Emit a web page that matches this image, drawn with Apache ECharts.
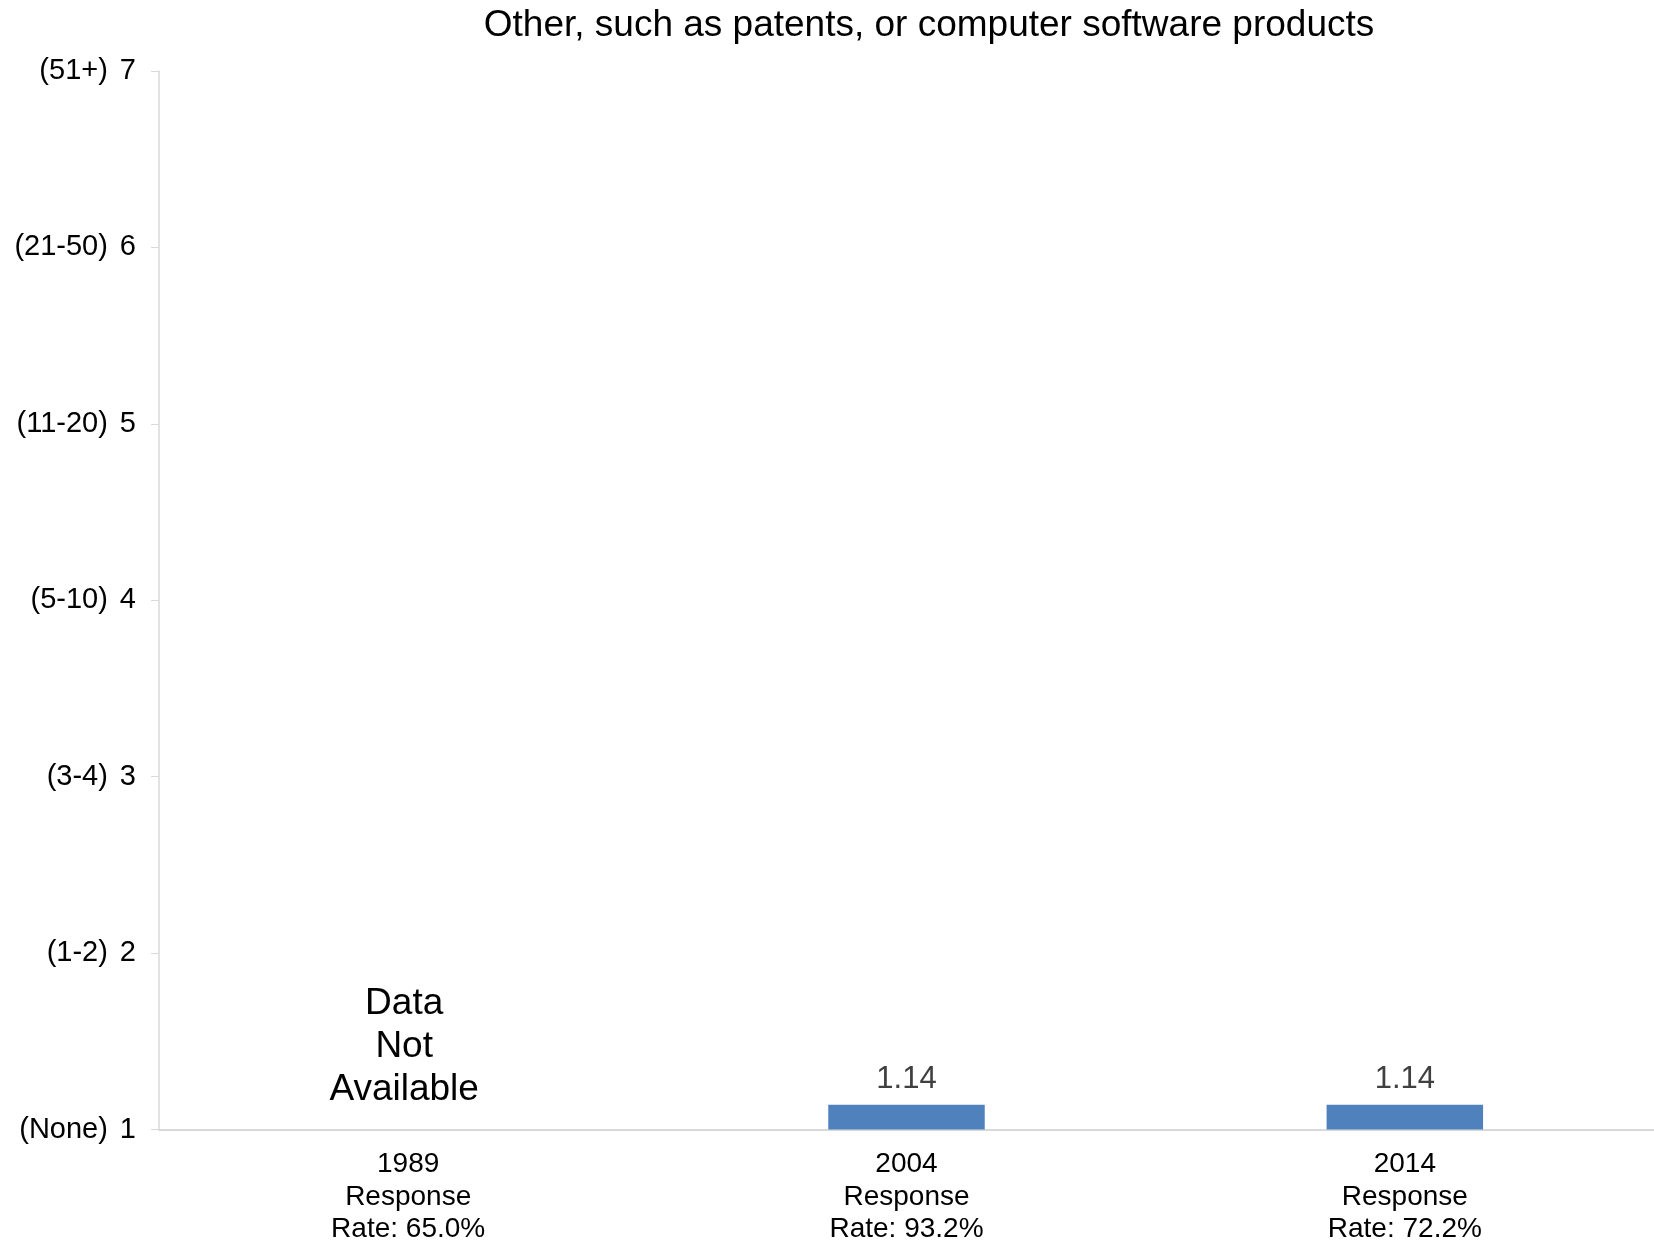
<!DOCTYPE html>
<html>
<head>
<meta charset="utf-8">
<script src="https://cdn.jsdelivr.net/npm/echarts@6/dist/echarts.min.js"></script>
<style>
  html, body { margin: 0; padding: 0; background: #fff; }
  #chart { width: 1654px; height: 1246px; }
</style>
</head>
<body>
<div id="chart"></div>
<script>
const categories = ['1989\nResponse\nRate: 65.0%', '2004\nResponse\nRate: 93.2%', '2014\nResponse\nRate: 72.2%']
const values = [null, 1.14, 1.14]
const yRanges = ['(None)', '(1-2)', '(3-4)', '(5-10)', '(11-20)', '(21-50)', '(51+)']
const titleText = 'Other, such as patents, or computer software products'
const missingText = 'Data\nNot\nAvailable'

const font = 'Liberation Sans, Arial, sans-serif'
const chart = echarts.init(document.getElementById('chart'))

chart.setOption({
  animation: false,
  title: {
    text: titleText,
    left: 924,
    top: 2,
    textAlign: 'center',
    textStyle: { fontFamily: font, fontSize: 37, fontWeight: 'normal', color: '#000' }
  },
  grid: { left: 159, right: 0, top: 71, bottom: 114, containLabel: false },
  xAxis: {
    type: 'category',
    data: categories,
    axisLine: { lineStyle: { color: '#d9d9d9', width: 2 } },
    axisTick: { show: false },
    axisLabel: { fontFamily: font, fontSize: 28, color: '#000', lineHeight: 32.5, margin: 19 }
  },
  yAxis: {
    type: 'value',
    min: 1,
    max: 7,
    interval: 1,
    splitLine: { show: false },
    axisLine: { show: true, lineStyle: { color: '#d9d9d9', width: 1.5 } },
    axisTick: { show: true, length: 8, lineStyle: { color: '#d9d9d9' } },
    axisLabel: {
      margin: 23,
      color: '#000',
      formatter: (v) => '{r|' + yRanges[v - 1] + '}{n|' + v + '}',
      rich: {
        r: { fontFamily: font, fontSize: 29, color: '#000' },
        n: { fontFamily: font, fontSize: 29, color: '#000', padding: [0, 0, 0, 12] }
      }
    }
  },
  series: [
    {
      type: 'bar',
      data: values,
      barWidth: '31.4%',
      itemStyle: { color: '#4f81bd' },
      label: {
        show: true,
        position: 'top',
        distance: 10,
        fontFamily: font,
        fontSize: 31,
        color: '#404040',
        formatter: (p) => p.value.toFixed(2)
      },
      markPoint: {
        symbolSize: 0,
        data: [{ coord: [categories[0], 1.47] }],
        label: {
          show: true,
          position: 'inside',
          offset: [-4, 0],
          formatter: missingText,
          fontFamily: font,
          fontSize: 37,
          lineHeight: 43,
          color: '#000',
          align: 'center'
        }
      }
    }
  ]
})
</script>
</body>
</html>
